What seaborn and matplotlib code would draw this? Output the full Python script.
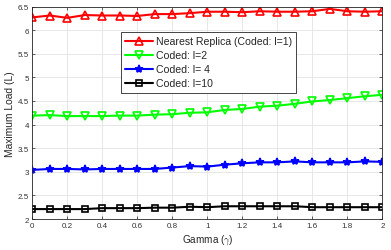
import numpy as np
import pandas as pd
import matplotlib
matplotlib.use("Agg")
import matplotlib.pyplot as plt
import seaborn as sns

gamma = [0.0, 0.1, 0.2, 0.3, 0.4, 0.5, 0.6, 0.7, 0.8, 0.9, 1.0,
         1.1, 1.2, 1.3, 1.4, 1.5, 1.6, 1.7, 1.8, 1.9, 2.0]
nearest = [6.27, 6.31, 6.26, 6.32, 6.31, 6.31, 6.30, 6.34, 6.34, 6.36, 6.39,
           6.39, 6.38, 6.40, 6.39, 6.39, 6.40, 6.45, 6.40, 6.39, 6.40]
coded2 = [4.19, 4.20, 4.18, 4.18, 4.18, 4.19, 4.19, 4.21, 4.22, 4.25, 4.26,
          4.31, 4.33, 4.38, 4.40, 4.44, 4.49, 4.52, 4.56, 4.60, 4.63]
coded4 = [3.04, 3.06, 3.06, 3.05, 3.06, 3.06, 3.06, 3.06, 3.09, 3.12, 3.11,
          3.15, 3.18, 3.20, 3.20, 3.22, 3.20, 3.20, 3.20, 3.22, 3.21]
coded10 = [2.21, 2.21, 2.21, 2.21, 2.23, 2.23, 2.23, 2.24, 2.24, 2.26, 2.25,
           2.27, 2.27, 2.27, 2.27, 2.27, 2.25, 2.25, 2.25, 2.25, 2.25]
labels = ["Nearest Replica (Coded: l=1)", "Coded: l=2", "Coded: l= 4", "Coded: l=10"]
xticks = [0, 0.2, 0.4, 0.6, 0.8, 1, 1.2, 1.4, 1.6, 1.8, 2]
yticks = [2, 2.5, 3, 3.5, 4, 4.5, 5, 5.5, 6, 6.5]

sns.set_style("whitegrid")
plt.rcParams['font.family'] = ['Liberation Sans', 'DejaVu Sans']
plt.rcParams['mathtext.fontset'] = 'cm'

fig = plt.figure(figsize=(3.91, 2.51), dpi=100)
ax = fig.add_axes([0.0826, 0.1235, 0.8955, 0.8465])

series = [nearest, coded2, coded4, coded10]
colors = ["#ff0000", "#00ff00", "#0000ff", "#000000"]
markers = ["^", "v", "*", "s"]
msizes = [6, 6, 6, 4.8]
for vals, lab, c, m, ms in zip(series, labels, colors, markers, msizes):
    df = pd.DataFrame({"Gamma": gamma, "Load": vals})
    fc = c if m == "*" else "none"
    sns.lineplot(data=df, x="Gamma", y="Load", ax=ax, color=c, linewidth=1.5,
                 marker=m, markersize=ms, markerfacecolor=fc,
                 markeredgecolor=c, markeredgewidth=1.2, label=lab)

ax.set_xlim(0, 2)
ax.set_ylim(2, 6.5)
ax.set_xticks(xticks)
ax.set_xticklabels([f"{t:g}" for t in xticks])
ax.set_yticks(yticks)
ax.set_yticklabels([f"{t:g}" for t in yticks])
ax.grid(True, color="#e3e3e3", linewidth=0.6)
for s in ax.spines.values():
    s.set_visible(True)
    s.set_color("#262626")
    s.set_linewidth(0.6)
ax.tick_params(direction="in", length=2.5, width=0.5, colors="#262626",
               labelcolor="#333333", labelsize=5.8, pad=2.5,
               top=True, right=True, bottom=True, left=True)
ax.set_xlabel("Gamma ($\\gamma$)", fontsize=7.2, color="#262626", labelpad=2)
ax.set_ylabel("Maximum Load (L)", fontsize=7.4, color="#262626", labelpad=2)

leg = ax.legend(loc="upper left", bbox_to_anchor=(0.253, 0.880), borderaxespad=0,
                fontsize=7.6, frameon=True, fancybox=False, edgecolor="#262626",
                framealpha=1, handlelength=2.6, handletextpad=0.3,
                labelspacing=0.38, borderpad=0.4)
leg.get_frame().set_linewidth(0.6)

fig.savefig("out.png", dpi=100)
